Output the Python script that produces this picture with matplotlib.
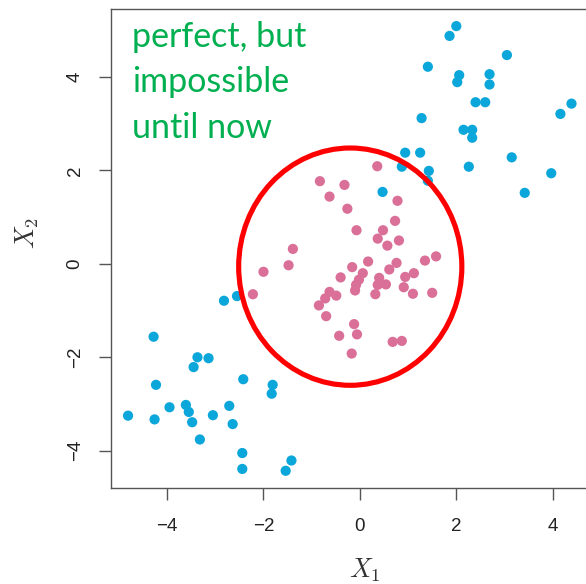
import matplotlib
matplotlib.use("Agg")
import matplotlib.pyplot as plt
from matplotlib.patches import Ellipse

plt.rcParams["mathtext.fontset"] = "cm"
plt.rcParams["axes.unicode_minus"] = True

# class in the centre (pink)
pink_x = [0.36, -0.83, -0.32, -0.63, -0.26, 0.78, 0.73, -0.07, 0.48, 0.37,
          0.81, 0.57, -1.39, -1.48, -2.00, 0.17, -0.16, 0.76, 0.61, 1.35,
          1.58, 1.12, 0.94, -0.40, 0.06, -0.02, -0.08, -0.10, 0.40, 0.37,
          0.54, 0.32, 0.91, 1.10, 1.50, -2.22, -0.63, -0.49, -0.72, -0.85,
          -0.70, -0.12, -0.43, -0.06, 0.68, 0.87, -0.17]
pink_y = [2.09, 1.77, 1.69, 1.44, 1.18, 1.35, 0.92, 0.72, 0.72, 0.54,
          0.50, 0.39, 0.32, -0.03, -0.17, 0.05, -0.07, 0.02, -0.12, 0.07,
          0.16, -0.20, -0.28, -0.29, -0.20, -0.34, -0.45, -0.57, -0.30, -0.45,
          -0.44, -0.65, -0.50, -0.64, -0.62, -0.65, -0.60, -0.68, -0.74, -0.89,
          -1.12, -1.29, -1.54, -1.51, -1.67, -1.65, -1.92]

# outer class (blue), two clouds
blue_x = [2.00, 1.86, 3.05, 1.41, 2.06, 2.02, 2.69, 2.69, 2.40, 2.60,
          4.39, 4.16, 1.28, 2.15, 2.33, 2.33, 3.15, 0.94, 1.25, 0.87,
          1.43, 1.41, 2.26, 3.97, 3.42, 0.47,
          -2.82, -2.55, -4.28, -3.37, -3.14, -3.45, -4.23, -2.42, -1.81, -1.83,
          -4.81, -4.26, -3.95, -3.61, -3.55, -3.48, -3.05, -2.71, -2.64, -3.32,
          -2.44, -2.44, -1.42, -1.54]
blue_y = [5.09, 4.88, 4.47, 4.22, 4.04, 3.89, 4.06, 3.84, 3.46, 3.46,
          3.43, 3.21, 3.12, 2.87, 2.87, 2.70, 2.28, 2.38, 2.38, 2.08,
          1.99, 1.78, 2.08, 1.94, 1.52, 1.54,
          -0.79, -0.69, -1.56, -2.00, -2.02, -2.21, -2.59, -2.47, -2.59, -2.78,
          -3.25, -3.33, -3.07, -3.02, -3.17, -3.39, -3.24, -3.04, -3.43, -3.76,
          -4.05, -4.39, -4.21, -4.43]

x_ticks = [-4, -2, 0, 2, 4]
y_ticks = [-4, -2, 0, 2, 4]

# ellipse marking the central class: centre, width, height
ell_center = (-0.20, -0.06)
ell_width = 4.63
ell_height = 5.08

note_lines = ["perfect, but", "impossible", "until now"]

W, H = 586, 584
fig = plt.figure(figsize=(W / 100, H / 100), dpi=100)

x0, x1 = -5.17, 5.0
y0, y1 = -4.805, 5.456
px_per_x = 48.2
left_px, top_px, bottom_px = 110.7, 9.0, 488.3
ax = fig.add_axes([left_px / W, (H - bottom_px) / H,
                   (x1 - x0) * px_per_x / W, (bottom_px - top_px) / H])
ax.set_xlim(x0, x1)
ax.set_ylim(y0, y1)

blue = "#0BA6DA"
pink = "#DA6F98"
ax.scatter(blue_x, blue_y, s=54, color=blue, edgecolors="none", zorder=3)
ax.scatter(pink_x, pink_y, s=54, color=pink, edgecolors="none", zorder=3)

ax.add_patch(Ellipse(ell_center, ell_width, ell_height, fill=False,
                     edgecolor="#FF0000", linewidth=3.7, zorder=4))

spine_col = "#555555"
for side in ["left", "bottom", "top", "right"]:
    ax.spines[side].set_color(spine_col)
    ax.spines[side].set_linewidth(1.0)

ax.set_xticks(x_ticks)
ax.set_yticks(y_ticks)
ax.set_xticklabels([str(v).replace("-", "\u2212") for v in x_ticks])
ax.set_yticklabels([str(v).replace("-", "\u2212") for v in y_ticks],
                   rotation=90, va="center")
ax.tick_params(axis="both", length=8.5, width=1.0, color=spine_col,
               labelsize=13.5, labelcolor="#222222",
               labelfontfamily="Liberation Sans")
ax.tick_params(axis="x", pad=13)
ax.tick_params(axis="y", pad=11)

fig.text(365 / W, 1 - 570 / H, r"$X_1$", fontsize=19, color="#333333",
         ha="center", va="center")
fig.text(27 / W, 1 - 233 / H, r"$X_2$", fontsize=19, color="#333333",
         ha="center", va="center", rotation=90)

baselines = [47, 92.5, 138]
for line, b in zip(note_lines, baselines):
    fig.text(132 / W, 1 - b / H, line, fontsize=24.5, color="#00B050",
             family="Lato", ha="left", va="baseline")

fig.savefig("out.png", dpi=100)
